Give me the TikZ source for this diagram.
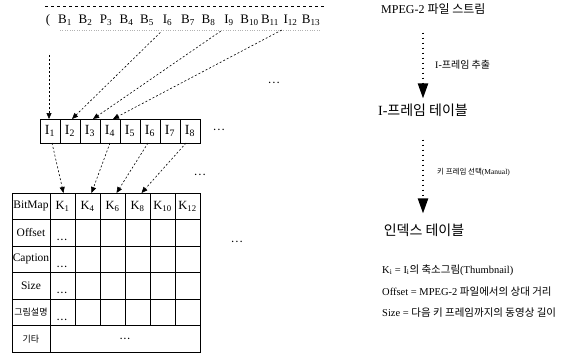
\documentclass[tikz,border=0pt]{standalone}
\usepackage{fontspec}
\setmainfont{Liberation Serif}
\newfontfamily\kr{Noto Sans CJK KR}
\usetikzlibrary{arrows.meta}
\newcommand{\fsz}[1]{\fontsize{#1}{#1}\selectfont}
\begin{document}
\begin{tikzpicture}[x=1pt,y=-1pt,
  cellbox/.style={draw, line width=0.9pt, inner sep=0pt, outer sep=0pt, minimum width=25pt, minimum height=26.5pt, font=\fsz{12.5}},
  labbox/.style={cellbox, minimum width=38pt, font=\fsz{11.5}},
  ibox/.style={draw, line width=0.8pt, inner sep=0pt, outer sep=0pt, minimum width=20pt, minimum height=24pt, font=\fsz{14}},
  frm/.style={inner sep=0pt, font=\fsz{13}},
  ell/.style={inner sep=0pt, font=\fsz{9}\bfseries},
  txt/.style={inner sep=0pt, anchor=west},
  darr/.style={dash pattern=on 2pt off 2pt, line width=0.6pt, -{Triangle[length=6pt,width=5pt]}},
  bigarr/.style={line width=2.2pt, dash pattern=on 1.5pt off 3.5pt, -{Triangle[length=15pt,width=10pt]}}
]
\useasboundingbox (0,0) rectangle (581,356);

% frame stream
\coordinate (tl) at (45,6);
\coordinate (tr) at (325,6);
\draw[dashed, line width=0.8pt] (tl) -- (tr);
\coordinate (bl) at (60,30);
\coordinate (br) at (320,30);
\draw[gray!60, dotted] (bl) -- (br);
\node[frm] (paren) at (48,20) {(};
\foreach \t [count=\k] in {B\textsubscript{1}, B\textsubscript{2}, P\textsubscript{3}, B\textsubscript{4}, B\textsubscript{5}, I\textsubscript{6}, B\textsubscript{7}, B\textsubscript{8}, I\textsubscript{9}, B\textsubscript{10}, B\textsubscript{11}, I\textsubscript{12}, B\textsubscript{13}}
  \node[frm] (f\k) at ({65+20.5*(\k-1)},20) {\t};

% I-frame row
\foreach \k in {1,...,8}
  \node[ibox] (I\k) at ({50+20*(\k-1)},131) {I\textsubscript{\k}};

\coordinate (s0) at (49,55);
\draw[darr] (s0) -- (s0 |- I1.north);
\draw[darr, shorten <=10pt] (f6.south) -- ([xshift=2pt]I2.north);
\draw[darr, shorten <=10pt] (f9.south) -- ([xshift=3pt]I3.north);
\draw[darr, shorten <=10pt] (f12.south) -- ([xshift=3pt]I4.north);

% table
\foreach \lab [count=\r] in {BitMap, Offset, Caption, Size, {{\kr\fsz{9}그림설명}}, {{\kr\fsz{9}기타}}}
  \node[labbox] (L\r) at (31,{193+26.5*(\r-0.5)}) {\lab};
\foreach \h [count=\c] in {1,4,6,8,10,12}
  \node[cellbox] (K\h) at ({62.5+25*(\c-1)},206.25) {K\textsubscript{\h}};
\foreach \r in {2,...,5}{
  \foreach \c in {1,...,6}
    \node[cellbox] (c\r\c) at ({62.5+25*(\c-1)},{193+26.5*(\r-0.5)}) {};
  \node[ell] (d\r) at (62,{193+26.5*\r-6}) {.\hspace{1.5pt}.\hspace{1.5pt}.};
}
\node[cellbox, minimum width=150pt] (rest) at (125,338.75) {\fsz{9}\bfseries .\hspace{1.5pt}.\hspace{1.5pt}.};

\draw[darr] ([xshift=2pt]I1.south) -- ([xshift=1pt]K1.north);
\draw[darr] (I4.south) -- ([xshift=4pt]K4.north);
\draw[darr] ([xshift=-2pt]I6.south) -- ([xshift=4pt]K6.north);
\draw[darr] ([xshift=-4pt]I8.south) -- ([xshift=4pt]K8.north);

% ellipses
\node[ell] (e1) at (274,83) {.\hspace{2pt}.\hspace{2pt}.};
\node[ell] (e2) at (219,130) {.\hspace{2pt}.\hspace{2pt}.};
\node[ell] (e3) at (200,175) {.\hspace{2pt}.\hspace{2pt}.};
\node[ell] (e4) at (237,242) {.\hspace{2pt}.\hspace{2pt}.};

% right-hand flow
\node[txt, font=\fsz{12}] (mpeg) at (381,9) {MPEG-2 {\kr 파일 스트림}};
\node[inner sep=0pt, font=\fsz{14}] (itab) at (423,110) {I-{\kr 프레임 테이블}};
\node[inner sep=0pt, font=\fsz{14}] (idx) at (424,230) {{\kr 인덱스 테이블}};
\draw[bigarr, shorten <=18pt, shorten >=5pt] (itab.north |- mpeg.south) -- (itab.north);
\draw[bigarr, shorten <=23pt, shorten >=10pt] (itab.south) -- (itab.south |- idx.north);
\node[txt, font=\fsz{10}] (lab1) at (435,65) {I-{\kr 프레임 추출}};
\node[txt, font=\fsz{7.5}] (lab2) at (437,172) {{\kr 키 프레임 선택}(Manual)};

\node[txt, font=\fsz{10.5}] (g1) at (382,270) {K\textsubscript{i} = I\textsubscript{i}{\kr 의 축소그림}(Thumbnail)};
\node[txt, font=\fsz{10.5}] (g2) at (382,292) {Offset = MPEG-2 {\kr 파일에서의 상대 거리}};
\node[txt, font=\fsz{10.5}] (g3) at (382,313) {Size = {\kr 다음 키 프레임까지의 동영상 길이}};
\end{tikzpicture}
\end{document}
